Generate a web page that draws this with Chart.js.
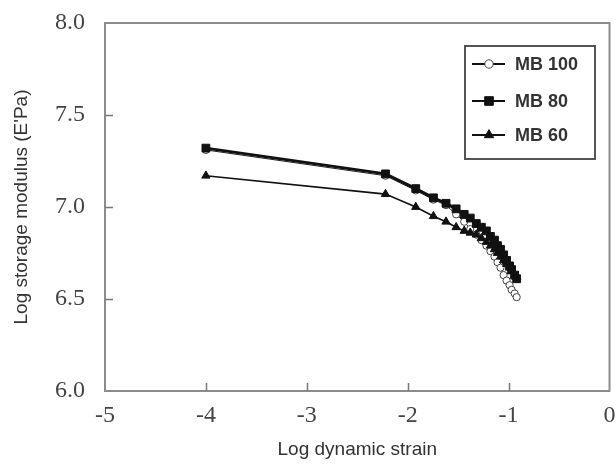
<!DOCTYPE html>
<html>
<head>
<meta charset="utf-8">
<script src="https://cdn.jsdelivr.net/npm/chart.js@4.4.1/dist/chart.umd.min.js"></script>
<style>
  html, body { margin: 0; padding: 0; background: #fff; }
  #wrap { width: 616px; height: 464px; }
</style>
</head>
<body>
<div id="wrap"><canvas id="strainChart" width="616" height="464"></canvas></div>
<script>
// log dynamic strain (x) for every series
var strain = [-4, -2.22, -1.92, -1.745, -1.62, -1.52, -1.44, -1.38, -1.32, -1.27, -1.22,
              -1.18, -1.14, -1.11, -1.08, -1.05, -1.02, -0.99, -0.97, -0.94, -0.92];

// log storage modulus values
var mb100 = [7.31, 7.17, 7.09, 7.04, 7.01, 6.96, 6.92, 6.88, 6.85, 6.82, 6.79,
             6.76, 6.73, 6.70, 6.67, 6.63, 6.60, 6.575, 6.55, 6.53, 6.51];
var mb80  = [7.32, 7.18, 7.10, 7.05, 7.02, 6.99, 6.96, 6.94, 6.91, 6.89, 6.87,
             6.84, 6.82, 6.79, 6.77, 6.74, 6.71, 6.68, 6.66, 6.63, 6.61];
var mb60  = [7.17, 7.07, 7.00, 6.95, 6.92, 6.89, 6.87, 6.86, 6.85, 6.83, 6.81,
             6.79, 6.77, 6.75, 6.73, 6.71, 6.69, 6.67, 6.65, 6.63, 6.62];

var seriesLabels = ['MB 100', 'MB 80', 'MB 60'];
var xTicks = [-5, -4, -3, -2, -1, 0];
var yTicks = [6.0, 6.5, 7.0, 7.5, 8.0];

function toPoints(ys) {
    return strain.map(function (x, i) { return { x: x, y: ys[i] }; });
}

// frame of the plot + tick marks pointing inwards
var framePlugin = {
    id: 'frame',
    beforeDatasetsDraw: function (chart) {
        var ctx = chart.ctx, a = chart.chartArea;
        var xs = chart.scales.x, ys = chart.scales.y;
        ctx.save();
        ctx.strokeStyle = '#8c8c8c';
        ctx.lineWidth = 2;
        ctx.strokeRect(a.left, a.top, a.right - a.left, a.bottom - a.top);
        ctx.lineWidth = 1.5;
        ctx.strokeStyle = '#777';
        ctx.beginPath();
        xTicks.slice(1, -1).forEach(function (v) {
            var px = Math.round(xs.getPixelForValue(v)) + 0.5;
            ctx.moveTo(px, a.bottom);
            ctx.lineTo(px, a.bottom - 8);
        });
        yTicks.slice(1, -1).forEach(function (v) {
            var py = Math.round(ys.getPixelForValue(v)) + 0.5;
            ctx.moveTo(a.left, py);
            ctx.lineTo(a.left + 8, py);
        });
        ctx.stroke();
        ctx.restore();
    }
};

// boxed legend in the top right corner
var legendPlugin = {
    id: 'boxLegend',
    afterDraw: function (chart) {
        var ctx = chart.ctx;
        var sets = [chart.data.datasets[0], chart.data.datasets[1], chart.data.datasets[2]];
        var rowY = [64, 101, 135];
        ctx.save();
        ctx.strokeStyle = '#555';
        ctx.lineWidth = 2;
        ctx.strokeRect(465, 46, 130, 113);
        sets.forEach(function (ds, i) {
            var y = rowY[i];
            ctx.strokeStyle = '#111';
            ctx.lineWidth = 2;
            ctx.beginPath();
            ctx.moveTo(472, y);
            ctx.lineTo(505, y);
            ctx.stroke();
            ctx.fillStyle = ds.pointBackgroundColor;
            ctx.strokeStyle = ds.pointBorderColor;
            ctx.lineWidth = 1;
            Chart.helpers.drawPoint(ctx, {
                pointStyle: ds.pointStyle, radius: ds.pointRadius + 0.6,
                rotation: 0, borderWidth: 1
            }, 489, y);
            ctx.fillStyle = '#333';
            ctx.font = 'bold 18px "Liberation Sans", Arial, sans-serif';
            ctx.textBaseline = 'middle';
            ctx.fillText(ds.label, 515, y + 1);
        });
        ctx.restore();
    }
};

document.addEventListener('DOMContentLoaded', function () {
    var ctx = document.getElementById('strainChart').getContext('2d');
    new Chart(ctx, {
        type: 'scatter',
        data: {
            datasets: [
                {
                    label: seriesLabels[0],
                    data: toPoints(mb100),
                    showLine: true,
                    borderColor: '#222',
                    borderWidth: 1,
                    pointStyle: 'circle',
                    pointRadius: 3.6,
                    pointBackgroundColor: '#fff',
                    pointBorderColor: '#444',
                    pointBorderWidth: 1,
                    order: 3
                },
                {
                    label: seriesLabels[1],
                    data: toPoints(mb80),
                    showLine: true,
                    borderColor: '#111',
                    borderWidth: 3,
                    pointStyle: 'rect',
                    pointRadius: 5.5,
                    pointBackgroundColor: '#111',
                    pointBorderColor: '#111',
                    pointBorderWidth: 1,
                    order: 1
                },
                {
                    label: seriesLabels[2],
                    data: toPoints(mb60),
                    showLine: true,
                    borderColor: '#111',
                    borderWidth: 1.6,
                    pointStyle: 'triangle',
                    pointRadius: 4.8,
                    pointBackgroundColor: '#111',
                    pointBorderColor: '#111',
                    pointBorderWidth: 1,
                    order: 2
                }
            ]
        },
        options: {
            responsive: false,
            animation: false,
            events: [],
            layout: { padding: { top: 23, right: 5, left: 0, bottom: 0 } },
            plugins: {
                legend: { display: false },
                tooltip: { enabled: false }
            },
            scales: {
                x: {
                    type: 'linear',
                    min: -5,
                    max: 0,
                    afterFit: function (s) {
                        s.height = 73;
                        s.paddingLeft = 0;
                        s.paddingRight = 0;
                    },
                    afterBuildTicks: function (s) {
                        s.ticks = xTicks.map(function (v) { return { value: v }; });
                    },
                    grid: { display: false, drawTicks: false },
                    border: { display: false },
                    ticks: {
                        padding: 10,
                        color: '#444',
                        font: { family: '"Liberation Serif", "Times New Roman", serif', size: 24 }
                    },
                    title: {
                        display: true,
                        text: 'Log dynamic strain',
                        color: '#333',
                        font: { family: '"Liberation Sans", Arial, sans-serif', size: 19 },
                        padding: { top: 0, bottom: 3 }
                    }
                },
                y: {
                    type: 'linear',
                    min: 6,
                    max: 8,
                    afterFit: function (s) {
                        s.width = 105;
                        s.paddingTop = 0;
                        s.paddingBottom = 0;
                    },
                    afterBuildTicks: function (s) {
                        s.ticks = yTicks.map(function (v) { return { value: v }; });
                    },
                    grid: { display: false, drawTicks: false },
                    border: { display: false },
                    ticks: {
                        padding: 20,
                        color: '#444',
                        font: { family: '"Liberation Serif", "Times New Roman", serif', size: 24 },
                        callback: function (v) { return Number(v).toFixed(1); }
                    },
                    title: {
                        display: true,
                        text: "Log storage modulus (E'Pa)",
                        color: '#333',
                        font: { family: '"Liberation Sans", Arial, sans-serif', size: 19 },
                        padding: { top: 10, bottom: 0 }
                    }
                }
            }
        },
        plugins: [framePlugin, legendPlugin]
    });
});
</script>
</body>
</html>
